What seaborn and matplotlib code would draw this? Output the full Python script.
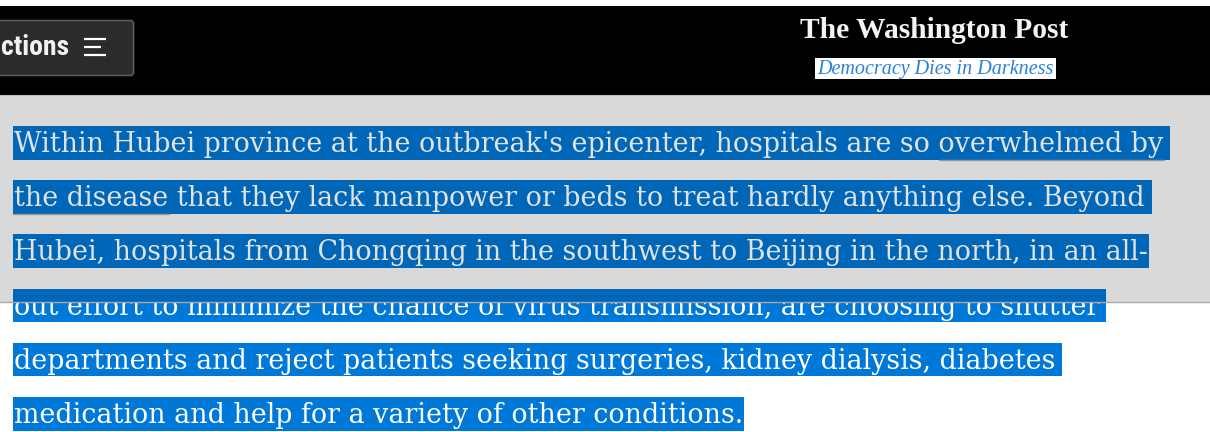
import matplotlib
matplotlib.use("Agg")
import matplotlib.pyplot as plt
from matplotlib.patches import Rectangle, FancyBboxPatch
import seaborn as sns

# page text
paragraph = [
    "Within Hubei province at the outbreak's epicenter, hospitals are so overwhelmed by ",
    "the disease that they lack manpower or beds to treat hardly anything else. Beyond ",
    "Hubei, hospitals from Chongqing in the southwest to Beijing in the north, in an all-",
    "out effort to minimize the chance of virus transmission, are choosing to shutter ",
    "departments and reject patients seeking surgeries, kidney dialysis, diabetes ",
    "medication and help for a variety of other conditions.",
]
link_words = ["overwhelmed by", "the disease"]
masthead = "The Washington Post"
tagline = "Democracy Dies in Darkness"
menu_label = "ctions"  # "Sections" button, scrolled off the left edge

W, H = 1210, 432

sns.set_theme(style="white")

fig = plt.figure(figsize=(W / 100, H / 100), dpi=100)
ax = fig.add_axes([0, 0, 1, 1])
ax.set_xlim(0, W)
ax.set_ylim(H, 0)
ax.axis("off")
renderer = fig.canvas.get_renderer()


def text_width(s, **kw):
    t = ax.text(0, 0, s, **kw)
    w = t.get_window_extent(renderer).width
    t.remove()
    return w


def fit_size(s, target, **kw):
    return 20 * target / text_width(s, fontsize=20, **kw)


# --- header bar ---
ax.add_patch(Rectangle((0, 0), W, 6, fc="white", ec="none", zorder=0))
ax.add_patch(Rectangle((0, 6), W, 88.5, fc="black", ec="none", zorder=2))
ax.add_patch(FancyBboxPatch((-10, 20.5), 143.5, 55, boxstyle="round,pad=0,rounding_size=3",
                            fc="#2b2b2b", ec="#5c5c5c", lw=1.2, zorder=3))
menu_font = dict(family=["Roboto Condensed", "Roboto"], weight="bold")
menu_size = fit_size(menu_label, 68, **menu_font)
ax.text(69, 55, menu_label, fontsize=menu_size, color="#f2f2f2", ha="right",
        va="baseline", zorder=4, **menu_font)
for y, x1 in [(38.5, 106), (46.5, 100.5), (54.5, 106)]:
    ax.plot([83.5, x1], [y, y], color="white", lw=1.6, solid_capstyle="butt", zorder=4)

mast_font = dict(family="Liberation Serif", weight="bold")
mast_size = fit_size(masthead, 268, **mast_font)
ax.text(800, 38.5, masthead, fontsize=mast_size, color="#f4f4f4", va="baseline",
        zorder=4, **mast_font)
ax.add_patch(Rectangle((815, 58), 241, 21, fc="white", ec="none", zorder=3))
tag_font = dict(family="Liberation Serif", style="italic")
tag_size = fit_size(tagline, 237, **tag_font)
ax.text(935.5, 74, tagline, fontsize=tag_size, color="#2b80dc", ha="center",
        va="baseline", zorder=4, **tag_font)

# --- sticky grey panel ---
panel_bottom = 302
ax.add_patch(Rectangle((0, 94.5), W, panel_bottom - 94.5, fc="#d9d9d9", ec="none", zorder=2))
ax.plot([0, W], [94.8, 94.8], color="#bdbdbd", lw=0.8, zorder=2.1)
ax.plot([0, W], [panel_bottom, panel_bottom], color="#a9a9a9", lw=1.0, zorder=6)

# --- selected paragraph ---
body_font = dict(family="DejaVu Serif")
body_size = fit_size(paragraph[0].rstrip(), 1146, **body_font)
space_w = (text_width("a a", fontsize=body_size, **body_font)
           - text_width("aa", fontsize=body_size, **body_font))

x0, top0, pitch, band = 13, 126, 54.2, 33.5
for i, line in enumerate(paragraph):
    top = top0 + i * pitch
    w = text_width(line.rstrip(), fontsize=body_size, **body_font)
    if line.endswith(" "):
        w += space_w * 0.7
    in_panel = top + band <= panel_bottom
    z = 3 if in_panel else 1
    ax.add_patch(Rectangle((x0, top), w + 2, band,
                           fc="#0067b8" if in_panel else "#0078d7", ec="none", zorder=z))
    ax.text(x0 + 1.5, top + 26, line.rstrip(), fontsize=body_size,
            color="#e2e2e2" if in_panel else "white", va="baseline", zorder=z + 0.5,
            **body_font)
    if not in_panel and top < panel_bottom:
        # top of the band shows through the panel, text hidden under it
        ax.add_patch(Rectangle((x0, top), w + 2, panel_bottom - top,
                               fc="#0067b8", ec="none", zorder=3))

# link underline: "overwhelmed by" / "the disease"
pre = paragraph[0][:paragraph[0].index(link_words[0])]
ux = x0 + 1.5 + text_width(pre.rstrip(), fontsize=body_size, **body_font) + space_w
uw = text_width(link_words[0], fontsize=body_size, **body_font)
ax.plot([ux, ux + uw], [top0 + band, top0 + band], color="#9a9a9a", lw=1.0, zorder=3.6)
uw2 = text_width(link_words[1], fontsize=body_size, **body_font)
ax.plot([x0, x0 + 1.5 + uw2], [top0 + pitch + band, top0 + pitch + band],
        color="#9a9a9a", lw=1.0, zorder=3.6)

fig.savefig("out.png", dpi=100, facecolor="white")
